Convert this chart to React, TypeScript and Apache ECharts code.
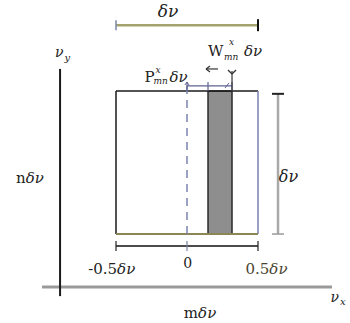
import React, { useEffect, useRef } from "react";
import * as echarts from "echarts";

// Diagram geometry in data units (1 unit = one cell width δν)
const xDomain = [-1.317, 1.148];
const yDomain = [-0.622, 1.636];
const cellEdges = [-0.5, 0.5];
const cellRows = [0, 1];
const centerLine = 0;
const centerLineTop = 1.04;
const shadedBand = [0.148, 0.317];
const widthBarLevel = 1.46;
const widthBarLabel = { x: -0.134, y: 1.56, text: "δν" };
const heightBarX = 0.641;
const heightBarRange = [0, 0.98];
const heightBarLabel = { x: 0.715, y: 0.4 };
const scaleBarLevel = -0.084;
const scaleTicks = [-0.5, 0, 0.5];
const scaleTickLabels = ["-0.5δν", "0", "0.5δν"];
const scaleLabelPos = [
  { x: -0.53, y: -0.245 },
  { x: 0.005, y: -0.2 },
  { x: 0.56, y: -0.245 },
];
const verticalAxisX = -0.894;
const verticalAxisRange = [-0.434, 1.154];
const horizontalAxisY = -0.371;
const horizontalAxisRange = [-1.021, 1.021];
const bracketLevel = 1.035;
const bracketTicks = [0, 0.148, 0.317];
const axisNames = [
  { x: -0.87, y: 1.27, base: "ν", sub: "y" },
  { x: 1.07, y: -0.44, base: "ν", sub: "x" },
];
const sideLabels = [
  { x: 0.092, y: -0.55, pre: "m" },
  { x: -1.106, y: 0.39, pre: "n" },
];
const pLabel = { x: -0.3, y: 1.095 };
const wLabel = { x: 0.148, y: 1.28 };

const SERIF = '"DejaVu Serif", "Liberation Serif", serif';
const f = (size: number, italic = false) => `${italic ? "italic " : ""}${size}px ${SERIF}`;

export default function App() {
  const ref = useRef<HTMLDivElement>(null);
  useEffect(() => {
    if (!ref.current) return;
    const chart = echarts.init(ref.current, undefined, { renderer: "svg" });

    const renderItem = (_params: any, api: any) => {
      const c = (x: number, y: number) => api.coord([x, y]);
      const kids: any[] = [];
      const seg = (x1: number, y1: number, x2: number, y2: number, style: any) => {
        const a = c(x1, y1);
        const b = c(x2, y2);
        kids.push({ type: "line", shape: { x1: a[0], y1: a[1], x2: b[0], y2: b[1] }, style });
      };
      const segPx = (p: number[], dx1: number, dy1: number, dx2: number, dy2: number, style: any) => {
        kids.push({
          type: "line",
          shape: { x1: p[0] + dx1, y1: p[1] + dy1, x2: p[0] + dx2, y2: p[1] + dy2 },
          style,
        });
      };
      const text = (p: number[], t: string, font: string, extra: any = {}) => {
        kids.push({
          type: "text",
          x: p[0],
          y: p[1],
          style: {
            text: t,
            fill: "#222",
            font,
            align: "center",
            verticalAlign: "middle",
            ...extra,
          },
        });
      };

      // axes
      seg(horizontalAxisRange[0], horizontalAxisY, horizontalAxisRange[1], horizontalAxisY, {
        stroke: "#9a9a9a",
        lineWidth: 3,
      });
      seg(verticalAxisX, verticalAxisRange[0], verticalAxisX, verticalAxisRange[1], {
        stroke: "#1a1a1a",
        lineWidth: 2,
      });

      // top width bar δν
      seg(cellEdges[0], widthBarLevel, cellEdges[1], widthBarLevel, { stroke: "#a3a36e", lineWidth: 2.5 });
      const wl = c(cellEdges[0], widthBarLevel);
      const wr = c(cellEdges[1], widthBarLevel);
      segPx(wl, 0, -5, 0, 5, { stroke: "#7d86a8", lineWidth: 1.5 });
      segPx(wr, 0, -6, 0, 6, { stroke: "#111", lineWidth: 2 });
      text(c(widthBarLabel.x, widthBarLabel.y), widthBarLabel.text, f(17, true));

      // shaded band
      const s0 = c(shadedBand[0], cellRows[1]);
      const s1 = c(shadedBand[1], cellRows[0]);
      kids.push({
        type: "rect",
        shape: { x: s0[0], y: s0[1], width: s1[0] - s0[0], height: s1[1] - s0[1] },
        style: { fill: "#8e8e8e", stroke: "#2a2a2a", lineWidth: 1.5 },
      });

      // cell box
      seg(cellEdges[0], cellRows[0], cellEdges[0], cellRows[1], { stroke: "#1a1a1a", lineWidth: 1.5 });
      seg(cellEdges[0], cellRows[1], cellEdges[1], cellRows[1], { stroke: "#1a1a1a", lineWidth: 1.5 });
      seg(cellEdges[1], cellRows[0], cellEdges[1], cellRows[1], { stroke: "#7880b0", lineWidth: 1.5 });
      seg(cellEdges[0], cellRows[0], cellEdges[1], cellRows[0], { stroke: "#8c8558", lineWidth: 2 });

      // dashed centre line
      seg(centerLine, cellRows[0], centerLine, centerLineTop, {
        stroke: "#7d83b0",
        lineWidth: 1.5,
        lineDash: [8, 6],
      });

      // bracket above band
      const bs = { stroke: "#5c6290", lineWidth: 1.2 };
      seg(bracketTicks[0], bracketLevel, bracketTicks[2], bracketLevel, bs);
      bracketTicks.forEach((t) => {
        const p = c(t, bracketLevel);
        segPx(p, 0, -4, 0, 5, bs);
      });
      const bl = c(bracketTicks[0], bracketLevel);
      segPx(bl, 0, -4, -2, -1, { ...bs, lineWidth: 1 });
      segPx(bl, 0, -4, 2, -1, { ...bs, lineWidth: 1 });
      const bm = c(bracketTicks[2], bracketLevel);
      segPx(bm, -3, -3, -7, 2, { ...bs, lineWidth: 1 });
      // W marker: vertical line with a Y-shaped head
      const br = c(bracketTicks[2], cellRows[1]);
      segPx(br, 0, 0, 0, -20, { stroke: "#333", lineWidth: 1.2 });
      segPx(br, 0, -17, -4, -21, { stroke: "#333", lineWidth: 1.2 });
      segPx(br, 0, -17, 4, -21, { stroke: "#333", lineWidth: 1.2 });
      // small left-pointing arrow
      const la = c(bracketTicks[1], bracketLevel);
      const ap = [la[0] + 4, la[1] - 17];
      segPx(ap, -6, 0, 6, 0, { stroke: "#333", lineWidth: 1.2 });
      segPx(ap, -6, 0, -2, -3, { stroke: "#333", lineWidth: 1.2 });
      segPx(ap, -6, 0, -2, 3, { stroke: "#333", lineWidth: 1.2 });

      // height bar
      seg(heightBarX, heightBarRange[0], heightBarX, heightBarRange[1], { stroke: "#a9a9a9", lineWidth: 2.5 });
      const ht = c(heightBarX, heightBarRange[1]);
      const hb = c(heightBarX, heightBarRange[0]);
      segPx(ht, -6, 0, 6, 0, { stroke: "#222", lineWidth: 2 });
      segPx(hb, -6, 0, 6, 0, { stroke: "#9a9a9a", lineWidth: 1.5 });
      text(c(heightBarLabel.x, heightBarLabel.y), "δν", f(16, true));

      // scale bar
      seg(scaleTicks[0], scaleBarLevel, scaleTicks[2], scaleBarLevel, { stroke: "#111", lineWidth: 1.5 });
      scaleTicks.forEach((t) => {
        const p = c(t, scaleBarLevel);
        segPx(p, 0, -5, 0, 5, { stroke: t === 0 ? "#7880a0" : "#222", lineWidth: 1.2 });
      });
      scaleTickLabels.forEach((lab, i) => {
        const p = c(scaleLabelPos[i].x, scaleLabelPos[i].y);
        const fill = i === 2 ? "#4a4430" : "#222";
        if (lab.endsWith("δν")) {
          kids.push({
            type: "text",
            x: p[0],
            y: p[1],
            style: {
              text: `${lab.slice(0, -2)}{i|δν}`,
              fill,
              font: f(15),
              align: "center",
              verticalAlign: "middle",
              rich: { i: { font: f(15, true), fill } },
            },
          });
        } else {
          text(p, lab, f(14), { fill });
        }
      });

      // side labels
      sideLabels.forEach((s) => {
        const p = c(s.x, s.y);
        kids.push({
          type: "text",
          x: p[0],
          y: p[1],
          style: {
            text: `${s.pre}{i|δν}`,
            fill: "#222",
            font: f(15),
            align: "center",
            verticalAlign: "middle",
            rich: { i: { font: f(15, true), fill: "#222" } },
          },
        });
      });

      // axis names
      axisNames.forEach((a) => {
        const p = c(a.x, a.y);
        text(p, a.base, f(14, true), { align: "right" });
        text([p[0] + 1, p[1] + 5], a.sub, f(10, true), { align: "left" });
      });

      // P and W labels with super/subscripts
      const pp = c(pLabel.x, pLabel.y);
      text(pp, "P", f(15), { align: "left" });
      text([pp[0] + 11, pp[1] - 7], "x", f(9, true), { align: "left" });
      text([pp[0] + 9, pp[1] + 4], "mn", f(9, true), { align: "left" });
      text([pp[0] + 25, pp[1]], "δν", f(15, true), { align: "left" });

      const wp = c(wLabel.x, wLabel.y);
      text(wp, "W", f(15), { align: "left" });
      text([wp[0] + 21, wp[1] - 9], "x", f(9, true), { align: "left" });
      text([wp[0] + 16, wp[1] + 6], "mn", f(9, true), { align: "left" });
      text([wp[0] + 36, wp[1]], "δν", f(15, true), { align: "left" });

      return { type: "group", children: kids };
    };

    chart.setOption({
      animation: false,
      grid: { left: 0, right: 0, top: 0, bottom: 0 },
      xAxis: { type: "value", min: xDomain[0], max: xDomain[1], show: false },
      yAxis: { type: "value", min: yDomain[0], max: yDomain[1], show: false },
      series: [
        {
          type: "custom",
          coordinateSystem: "cartesian2d",
          renderItem,
          data: [[0, 0]],
          clip: false,
          silent: true,
        },
      ],
    });
    return () => chart.dispose();
  }, []);

  return (
    <div
      ref={ref}
      style={{ position: "fixed", left: 0, top: 0, width: 350, height: 323, background: "#fff" }}
    />
  );
}
